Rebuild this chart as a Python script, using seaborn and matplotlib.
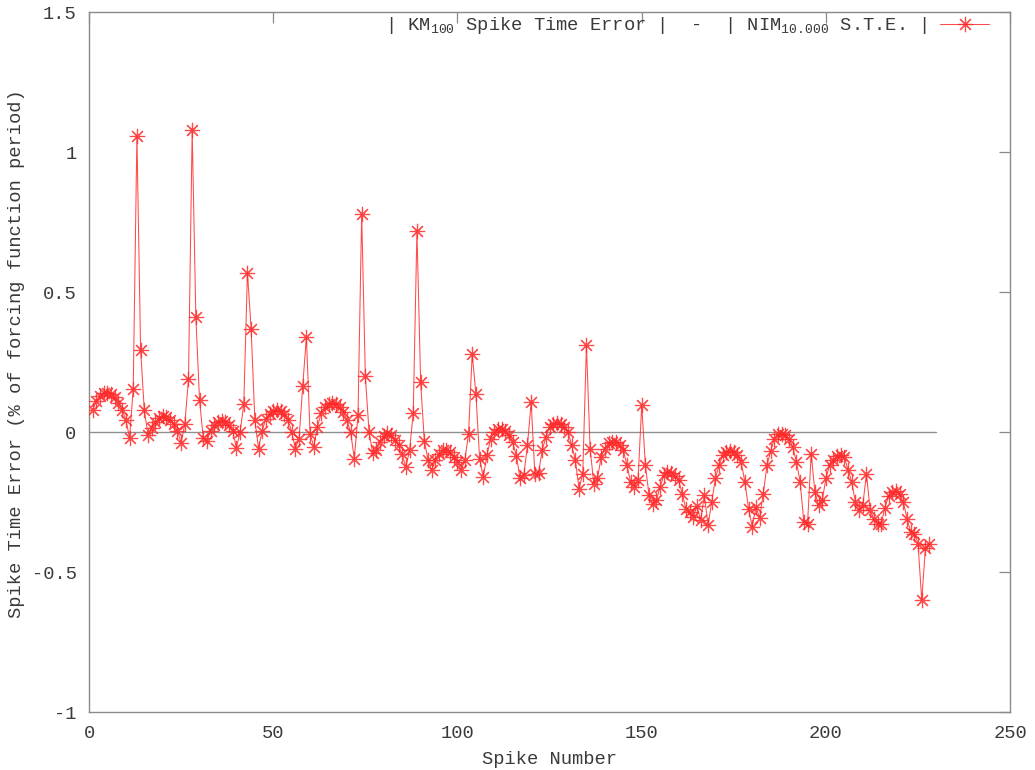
import numpy as np
import pandas as pd
import matplotlib
matplotlib.use("Agg")
import matplotlib.pyplot as plt
import seaborn as sns

# Spike time error per spike (% of forcing function period)
spike_error = [
    0.08, 0.11, 0.13, 0.14, 0.14, 0.135, 0.125, 0.105, 0.08, 0.045,
    -0.02, 0.155, 1.06, 0.295, 0.08, -0.01, 0.015, 0.035, 0.05, 0.057,
    0.055, 0.045, 0.028, 0.005, -0.038, 0.03, 0.19, 1.08, 0.41, 0.115,
    -0.02, -0.03, 0.005, 0.025, 0.035, 0.04, 0.035, 0.025, 0.005, -0.055,
    0.0, 0.10, 0.57, 0.37, 0.045, -0.058, 0.005, 0.049, 0.067, 0.076,
    0.079, 0.076, 0.065, 0.045, 0.002, -0.058, -0.023, 0.165, 0.34, -0.005,
    -0.052, 0.019, 0.069, 0.09, 0.10, 0.103, 0.10, 0.09, 0.073, 0.043,
    0.001, -0.094, 0.06, 0.78, 0.20, 0.001, -0.075, -0.064, -0.035, -0.013,
    -0.002, -0.01, -0.029, -0.046, -0.079, -0.124, -0.064, 0.07, 0.72, 0.18,
    -0.03, -0.098, -0.136, -0.10, -0.076, -0.064, -0.062, -0.07, -0.088, -0.106,
    -0.136, -0.10, -0.005, 0.28, 0.138, -0.094, -0.16, -0.082, -0.023, 0.0,
    0.01, 0.013, 0.005, -0.011, -0.035, -0.086, -0.165, -0.154, -0.046, 0.108,
    -0.148, -0.145, -0.064, -0.017, 0.019, 0.029, 0.033, 0.031, 0.02, 0.001,
    -0.046, -0.10, -0.201, -0.148, 0.31, -0.058, -0.183, -0.165, -0.088, -0.058,
    -0.04, -0.035, -0.035, -0.046, -0.064, -0.118, -0.177, -0.195, -0.171, 0.096,
    -0.118, -0.225, -0.255, -0.243, -0.195, -0.154, -0.142, -0.145, -0.157, -0.171,
    -0.219, -0.273, -0.285, -0.302, -0.264, -0.314, -0.225, -0.332, -0.249, -0.165,
    -0.118, -0.082, -0.07, -0.067, -0.07, -0.082, -0.106, -0.177, -0.273, -0.338,
    -0.267, -0.305, -0.219, -0.118, -0.067, -0.023, -0.007, -0.005, -0.011, -0.023,
    -0.052, -0.106, -0.177, -0.32, -0.329, -0.076, -0.213, -0.261, -0.243, -0.165,
    -0.118, -0.098, -0.086, -0.082, -0.09, -0.133, -0.177, -0.249, -0.279, -0.261,
    -0.148, -0.279, -0.308, -0.326, -0.326, -0.269, -0.229, -0.213, -0.21, -0.221,
    -0.249, -0.308, -0.356, -0.362, -0.398, -0.60, -0.415, -0.398,
]
spike_number = list(range(1, len(spike_error) + 1))

# Reference line at zero, spanning the data range
zero_line_x = [0, 230]

x_ticks = [0, 50, 100, 150, 200, 250]
y_ticks = [-1, -0.5, 0, 0.5, 1, 1.5]
y_tick_labels = ["-1", "-0.5", "0", "0.5", "1", "1.5"]

series_label = (r"| KM$\mathregular{_{100}}$ Spike Time Error |  -  "
                r"| NIM$\mathregular{_{10.000}}$ S.T.E. |")

sns.set_theme(style="white")
plt.rcParams["font.family"] = ["Liberation Mono", "DejaVu Sans Mono"]
plt.rcParams["mathtext.fontset"] = "custom"
plt.rcParams["mathtext.rm"] = "Liberation Mono"

text_color = "#3a3a3a"
frame_color = "#8a8a8a"
font_size = 13.5

fig = plt.figure(figsize=(10.35, 7.7), dpi=100)
ax = fig.add_axes([0.086, 0.075, 0.89, 0.909])

df = pd.DataFrame({"spike": spike_number, "error": spike_error})

ax.plot(zero_line_x, [0, 0], color="#909090", lw=1.0, zorder=1)

sns.lineplot(data=df, x="spike", y="error", ax=ax, estimator=None,
             color="#ff2a2a", linewidth=0.75, alpha=0.85,
             marker=(8, 2, 0), markersize=11, markeredgewidth=0.85,
             markeredgecolor="#ff2a2a", label=series_label, zorder=3)

ax.set_xlim(0, 250)
ax.set_ylim(-1, 1.5)
ax.set_xticks(x_ticks)
ax.set_xticklabels([str(t) for t in x_ticks])
ax.set_yticks(y_ticks)
ax.set_yticklabels(y_tick_labels)

ax.tick_params(axis="both", direction="in", length=8, width=0.9,
               color=frame_color, labelcolor=text_color, labelsize=font_size,
               top=True, right=True, pad=9)
for s in ax.spines.values():
    s.set_color(frame_color)
    s.set_linewidth(1.0)

ax.set_xlabel("Spike Number", fontsize=font_size, color=text_color, labelpad=7)
ax.set_ylabel("Spike Time Error (% of forcing function period)",
              fontsize=font_size, color=text_color)
ax.yaxis.set_label_coords(-0.069, 0.513)

leg = ax.legend(loc="upper right", bbox_to_anchor=(0.977, 0.996),
                frameon=False, markerfirst=False, fontsize=font_size,
                handlelength=2.6, borderaxespad=0.0, borderpad=0.0,
                handletextpad=0.7)
for t in leg.get_texts():
    t.set_color(text_color)

fig.savefig("out.png", dpi=100, facecolor="white")
